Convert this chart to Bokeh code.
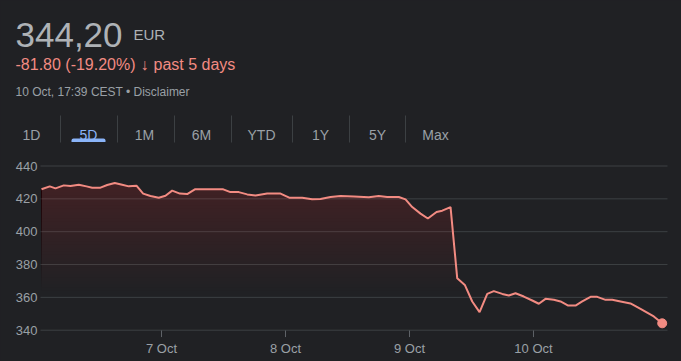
from bokeh.plotting import figure
from bokeh.models import Range1d, GlobalInlineStyleSheet
from bokeh.core.properties import value
from bokeh.embed import file_html
from bokeh.resources import INLINE
import numpy as np

# ---------------- data ----------------
# x position in trading-day units (7 Oct tick = 1, 8 Oct = 2, ...)
day_pos = [0.032, 0.099, 0.145, 0.212, 0.266, 0.333, 0.395, 0.441, 0.508, 0.562,
           0.623, 0.683, 0.736, 0.798, 0.852, 0.911, 0.978, 1.032, 1.086, 1.148,
           1.207, 1.269, 1.341, 1.422, 1.498, 1.556, 1.623, 1.691, 1.758, 1.852,
           1.960, 2.030, 2.135, 2.215, 2.282, 2.363, 2.444, 2.551, 2.672, 2.752,
           2.820, 2.914, 2.968, 3.022, 3.089, 3.148, 3.218, 3.264, 3.331, 3.385,
           3.446, 3.506, 3.565, 3.627, 3.680, 3.748, 3.801, 3.855, 3.922, 3.990,
           4.043, 4.097, 4.164, 4.218, 4.280, 4.339, 4.393, 4.460, 4.514, 4.581,
           4.635, 4.702, 4.782, 4.863, 4.970, 5.038]
price = [425.8, 427.6, 426.4, 428.2, 427.8, 428.6, 427.6, 426.8, 426.8, 428.4,
         429.6, 428.6, 427.6, 428.0, 423.2, 421.7, 420.7, 421.9, 425.0, 423.2,
         422.9, 425.8, 425.8, 425.9, 425.8, 424.1, 424.1, 422.7, 422.1, 423.3,
         423.2, 420.7, 420.7, 419.7, 419.9, 421.1, 421.7, 421.5, 420.9, 421.7,
         421.1, 421.1, 419.7, 415.0, 411.0, 408.0, 412.0, 412.8, 415.0, 371.6,
         367.6, 357.5, 351.0, 362.1, 363.8, 362.1, 361.1, 362.5, 360.5, 358.1,
         356.1, 359.1, 358.5, 357.5, 355.0, 355.0, 357.5, 360.3, 360.3, 358.5,
         358.5, 357.5, 356.3, 353.0, 348.4, 344.2]
day_ticks = [1, 2, 3, 4]
day_labels = ["7 Oct", "8 Oct", "9 Oct", "10 Oct"]
y_ticks = [340, 360, 380, 400, 420, 440]

last_price = "344,20"
currency = "EUR"
change_text = "-81.80 (-19.20%)"
change_arrow = "\u2193"
change_period = "past 5 days"
stamp_text = "10 Oct, 17:39 CEST \u2022 Disclaimer"
tabs = ["1D", "5D", "1M", "6M", "YTD", "1Y", "5Y", "Max"]
active_tab = "5D"

# ---------------- style ----------------
BG = "#202124"
GRID = "#3c4043"
MUTED = "#9aa0a6"
RED = "#f28b82"
BLUE = "#8ab4f8"
FILL = "#cd7b6a"
FONT = value("Liberation Sans")

W, H = 681, 361
# plot area (value space): horizontal bounds in days, bottom in price
X_LO, X_HI = 0.0242, 5.0806
Y_LO = 339.82

p = figure(width=W, height=H,
           x_range=Range1d(-0.29839, 5.19355), y_range=Range1d(320.94, 540.79),
           extra_x_ranges={"px": Range1d(0, W)}, extra_y_ranges={"px": Range1d(H, 0)},
           output_backend="svg", toolbar_location=None, min_border=0,
           background_fill_color=BG, border_fill_color=BG, outline_line_color=None,
           stylesheets=[GlobalInlineStyleSheet(
               css="html,body{margin:0;padding:0;background:#202124;overflow:hidden;}")])
p.axis.visible = False
p.grid.visible = False


def htext(xs, ys, txts, size, color, align="left", style="normal"):
    p.text(x=xs, y=ys, text=txts, x_range_name="px", y_range_name="px",
           text_font=FONT, text_font_size=size, text_color=color,
           text_baseline="alphabetic", text_align=align, text_font_style=style)


# ---------------- header ----------------
htext([15], [34], [last_price], "35px", "#aeb2b6")
htext([133], [34], [currency], "15px", "#aeb2b6")
htext([15], [64], [change_text], "16px", RED)
htext([144], [64], [change_arrow], "16px", RED, align="center", style="bold")
htext([153], [64], [change_period], "16px", RED)
htext([15], [91], [stamp_text], "12px", MUTED)

tab_x = [31, 88, 144, 201, 261, 320, 377, 435]
htext(tab_x, [134] * len(tabs), tabs, "14px",
      [BLUE if t == active_tab else MUTED for t in tabs], align="center")
sep_x = [60, 117, 174, 231, 292, 349, 405]
p.segment(x0=sep_x, y0=[115] * len(sep_x), x1=sep_x, y1=[142] * len(sep_x),
          x_range_name="px", y_range_name="px", line_color=GRID, line_width=1)
ai = tabs.index(active_tab)
p.quad(left=[tab_x[ai] - 17], right=[tab_x[ai] + 17], top=[138], bottom=[141.5],
       x_range_name="px", y_range_name="px",
       fill_color=BLUE, line_color=None, border_radius=[2, 2, 0, 0])

# ---------------- chart ----------------
x = np.array(day_pos)
y = np.array(price)

# horizontal grid lines across the plot area
p.segment(x0=[X_LO] * len(y_ticks), x1=[X_HI] * len(y_ticks), y0=y_ticks, y1=y_ticks,
          line_color=GRID, line_width=1)

# vertical gradient fill under the line (stacked translucent layers)
for lo in np.arange(364, 432, 2):
    p.varea(x=x, y1=np.full_like(y, lo), y2=np.maximum(y, lo),
            fill_color=FILL, fill_alpha=0.011)

p.line(x, y, line_color=RED, line_width=2)
p.scatter([x[-1]], [y[-1]], size=9, color=RED)

# y tick labels
p.text(x=[X_LO] * len(y_ticks), y=y_ticks, text=[str(t) for t in y_ticks],
       text_font=FONT, text_font_size="13px", text_color=MUTED,
       text_align="right", text_baseline="middle", x_offset=-3)

# x ticks and labels
p.segment(x0=day_ticks, x1=day_ticks, y0=[Y_LO] * len(day_ticks),
          y1=[Y_LO - 4.0] * len(day_ticks), line_color="#5f6368", line_width=1)
p.text(x=day_ticks, y=[Y_LO] * len(day_ticks), text=day_labels,
       text_font=FONT, text_font_size="13px", text_color=MUTED,
       text_align="center", text_baseline="alphabetic", y_offset=18)

open("out.html", "w").write(file_html(p, INLINE))
